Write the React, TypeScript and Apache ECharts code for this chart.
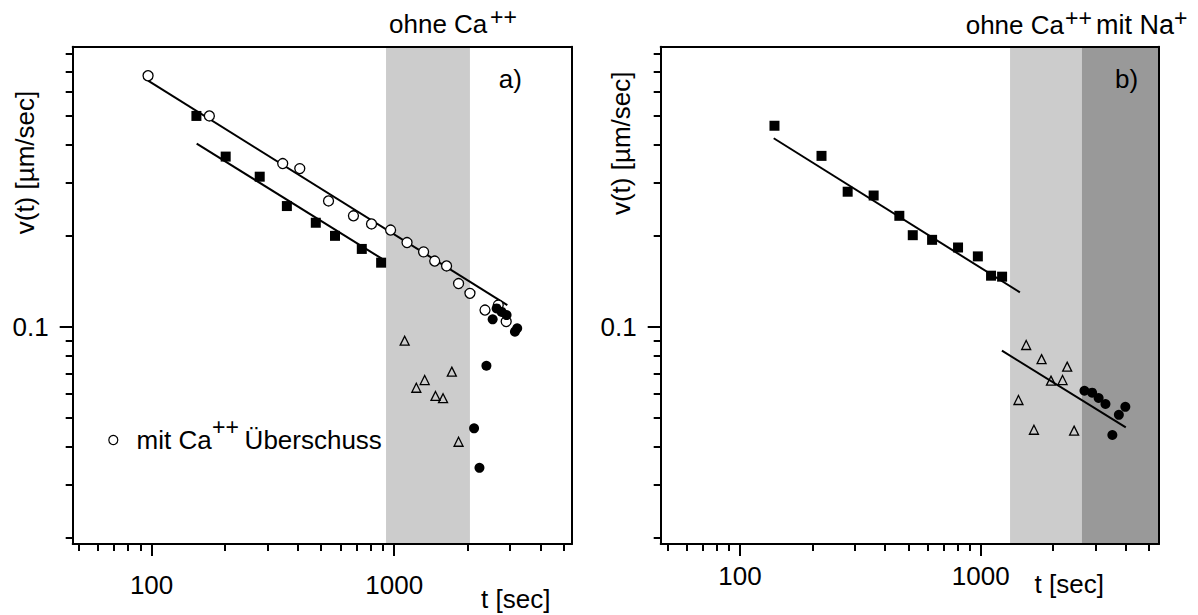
import React, { useEffect, useRef } from "react";
import * as echarts from "echarts";

const FONT = "'Liberation Sans', Arial, Helvetica, sans-serif";

// ---------- axis ticks ----------
const X_MAJOR = [100, 1000];
const X_MINOR = [50, 60, 70, 80, 90, 200, 300, 400, 500, 600, 700, 800, 900, 2000, 3000, 4000, 5000];
const Y_MAJOR = [0.1];
const Y_MINOR = [0.02, 0.03, 0.04, 0.05, 0.06, 0.07, 0.08, 0.09, 0.2, 0.3, 0.4, 0.5, 0.6, 0.7, 0.8];

// axis ranges
const A_X_RANGE = [47.3, 5402];
const B_X_RANGE = [46.8, 5506];
const Y_RANGE = [0.01908, 0.846];

// ---------- panel a) ----------
const aOpenT = [96.7, 173, 347, 408, 536, 679, 806, 966, 1129, 1321, 1468, 1643, 1841, 2051, 2366, 2683, 2893];
const aOpenV = [0.678, 0.499, 0.347, 0.334, 0.261, 0.233, 0.219, 0.209, 0.19, 0.177, 0.165, 0.159, 0.139, 0.129, 0.1136, 0.118, 0.104];
const aSquareT = [153, 202, 279, 361, 475, 570, 735, 883];
const aSquareV = [0.499, 0.366, 0.314, 0.251, 0.221, 0.2, 0.181, 0.163];
const aFilledT = [2544, 2642, 2772, 2904, 3143, 3212, 2398, 2133, 2245];
const aFilledV = [0.1058, 0.115, 0.112, 0.1093, 0.0963, 0.0988, 0.0743, 0.0461, 0.0341];
const aTriT = [1104, 1233, 1335, 1479, 1589, 1727, 1841];
const aTriV = [0.0899, 0.0628, 0.0666, 0.059, 0.058, 0.071, 0.0416];
const aFitUpperT = [96.7, 2924];
const aFitUpperV = [0.653, 0.118];
const aFitLowerT = [153.4, 889];
const aFitLowerV = [0.404, 0.168];
const aShade = [925, 2051];

// ---------- panel b) ----------
const bSquareT = [139, 218, 280, 359, 459, 522, 628, 805, 973, 1104, 1227];
const bSquareV = [0.463, 0.368, 0.28, 0.272, 0.233, 0.201, 0.194, 0.183, 0.171, 0.1476, 0.1465];
const bTriT = [1545, 1790, 2287, 1959, 2188, 1435, 1664, 2444];
const bTriV = [0.087, 0.0781, 0.0738, 0.0663, 0.0666, 0.0572, 0.0456, 0.0453];
const bFilledT = [2698, 2904, 3090, 3299, 3990, 3750, 3524];
const bFilledV = [0.0614, 0.0605, 0.0581, 0.0555, 0.0543, 0.0511, 0.0438];
const bFitUpperT = [138, 1455];
const bFitUpperV = [0.421, 0.13];
const bFitLowerT = [1225, 4007];
const bFitLowerV = [0.0833, 0.0464];
const bShadeLight = [1324, 2633];
const bShadeDark = [2633, 5506];

const pts = (t: number[], v: number[]) => t.map((x, i) => [x, v[i]]);
const fmt = (v: number) => String(Number(v.toPrecision(6)));

function xAxes(g: number, range: number[], labelMargin: number) {
  const base = { type: "log", logBase: 10, gridIndex: g, min: range[0], max: range[1], z: 10, splitLine: { show: false } };
  return [
    {
      ...base,
      position: "bottom",
      axisLine: { show: true, lineStyle: { color: "#000", width: 2 } },
      axisTick: { show: true, customValues: X_MAJOR, length: 12, lineStyle: { color: "#000", width: 2 } },
      axisLabel: { show: true, customValues: X_MAJOR, margin: labelMargin, fontSize: 26, fontFamily: FONT, color: "#000", formatter: fmt },
    },
    {
      ...base,
      position: "bottom",
      axisLine: { show: false },
      axisTick: { show: true, customValues: X_MINOR, length: 7, lineStyle: { color: "#000", width: 2 } },
      axisLabel: { show: false },
    },
    {
      ...base,
      position: "top",
      axisLine: { show: true, lineStyle: { color: "#000", width: 2 } },
      axisTick: { show: false },
      axisLabel: { show: false },
    },
  ];
}

function yAxes(g: number) {
  const base = { type: "log", logBase: 10, gridIndex: g, min: Y_RANGE[0], max: Y_RANGE[1], z: 10, splitLine: { show: false } };
  return [
    {
      ...base,
      position: "left",
      axisLine: { show: true, lineStyle: { color: "#000", width: 2 } },
      axisTick: { show: true, customValues: Y_MAJOR, length: 13, lineStyle: { color: "#000", width: 2 } },
      axisLabel: { show: true, customValues: Y_MAJOR, margin: 24, fontSize: 26, fontFamily: FONT, color: "#000", formatter: fmt },
    },
    {
      ...base,
      position: "left",
      axisLine: { show: false },
      axisTick: { show: true, customValues: Y_MINOR, length: 7, lineStyle: { color: "#000", width: 2 } },
      axisLabel: { show: false },
    },
    {
      ...base,
      position: "right",
      axisLine: { show: true, lineStyle: { color: "#000", width: 2 } },
      axisTick: { show: false },
      axisLabel: { show: false },
    },
  ];
}

const openCircle = { color: "#fff", borderColor: "#000", borderWidth: 1.3, opacity: 1 };
const openTri = { color: "rgba(0,0,0,0)", borderColor: "#000", borderWidth: 1.3, opacity: 1 };
const solid = { color: "#000", opacity: 1 };

function scatter(g: number, data: number[][], symbol: string, size: number, itemStyle: any, z: number) {
  return { type: "scatter", xAxisIndex: g * 3, yAxisIndex: g * 3, data, symbol, symbolSize: size, itemStyle, z, silent: true, emphasis: { disabled: true } };
}
function fit(g: number, data: number[][]) {
  return { type: "line", xAxisIndex: g * 3, yAxisIndex: g * 3, data, symbol: "none", lineStyle: { color: "#000", width: 2, opacity: 1 }, z: 3, silent: true };
}
function shade(g: number, areas: { range: number[]; color: string }[]) {
  return {
    type: "line",
    xAxisIndex: g * 3,
    yAxisIndex: g * 3,
    data: [],
    z: 1,
    silent: true,
    markArea: {
      silent: true,
      label: { show: false },
      data: areas.map((a) => [{ xAxis: a.range[0], itemStyle: { color: a.color, opacity: 1 } }, { xAxis: a.range[1] }]),
    },
  };
}

function txt(text: string, x: number, y: number, size: number, extra: any = {}) {
  return {
    type: "text",
    x,
    y,
    silent: true,
    z: 20,
    ...extra,
    style: { text, fill: "#000", fontSize: size, fontFamily: FONT, align: extra.align || "left", verticalAlign: "middle" },
  };
}

export default function App() {
  const ref = useRef<HTMLDivElement>(null);
  useEffect(() => {
    if (!ref.current) return;
    const chart = echarts.init(ref.current, null, { renderer: "svg" });
    const option: any = {
      animation: false,
      backgroundColor: "#fff",
      grid: [
        { left: 72.7, top: 46.7, width: 499.3, height: 497.3, outerBoundsMode: "none", containLabel: false },
        { left: 660.7, top: 46.7, width: 498.3, height: 497.3, outerBoundsMode: "none", containLabel: false },
      ],
      xAxis: [...xAxes(0, A_X_RANGE, 27.5), ...xAxes(1, B_X_RANGE, 18.5)],
      yAxis: [...yAxes(0), ...yAxes(1)],
      series: [
        shade(0, [{ range: aShade, color: "#cccccc" }]),
        fit(0, pts(aFitUpperT, aFitUpperV)),
        fit(0, pts(aFitLowerT, aFitLowerV)),
        scatter(0, pts(aOpenT, aOpenV), "circle", 10, openCircle, 4),
        scatter(0, pts(aSquareT, aSquareV), "rect", 10, solid, 4),
        scatter(0, pts(aTriT, aTriV), "triangle", 9, openTri, 4),
        scatter(0, pts(aFilledT, aFilledV), "circle", 10, solid, 5),

        shade(1, [
          { range: bShadeLight, color: "#cccccc" },
          { range: bShadeDark, color: "#999999" },
        ]),
        fit(1, pts(bFitUpperT, bFitUpperV)),
        fit(1, pts(bFitLowerT, bFitLowerV)),
        scatter(1, pts(bSquareT, bSquareV), "rect", 10, solid, 4),
        scatter(1, pts(bTriT, bTriV), "triangle", 9, openTri, 4),
        scatter(1, pts(bFilledT, bFilledV), "circle", 10, solid, 5),
      ],
      graphic: [
        // panel a) titles
        txt("ohne Ca", 389, 24.3, 26),
        txt("++", 490, 17, 23),
        txt("a)", 498.8, 78.5, 26),
        txt("t [sec]", 481, 599.4, 26),
        txt("v(t) [µm/sec]", 24.5, 162.5, 26, { rotation: Math.PI / 2, align: "center" }),
        // legend
        { type: "circle", shape: { cx: 113.3, cy: 440, r: 4.5 }, style: { fill: "#fff", stroke: "#000", lineWidth: 1.2 }, z: 20, silent: true },
        txt("mit Ca", 136.6, 440.3, 26),
        txt("++", 212, 426.7, 23),
        txt("Überschuss", 244.6, 440.3, 26),
        // panel b) titles
        txt("ohne Ca", 965.7, 25, 26),
        txt("++", 1065, 17.5, 23),
        txt("mit Na", 1096, 25, 27),
        txt("+", 1174, 17.5, 23),
        txt("b)", 1115, 78.5, 26),
        txt("t [sec]", 1034.6, 584, 26),
        txt("v(t) [µm/sec]", 620.6, 143.3, 26, { rotation: Math.PI / 2, align: "center" }),
      ],
    };
    chart.setOption(option);
    return () => chart.dispose();
  }, []);
  return <div ref={ref} style={{ position: "absolute", left: 0, top: 0, width: 1198, height: 615 }} />;
}
